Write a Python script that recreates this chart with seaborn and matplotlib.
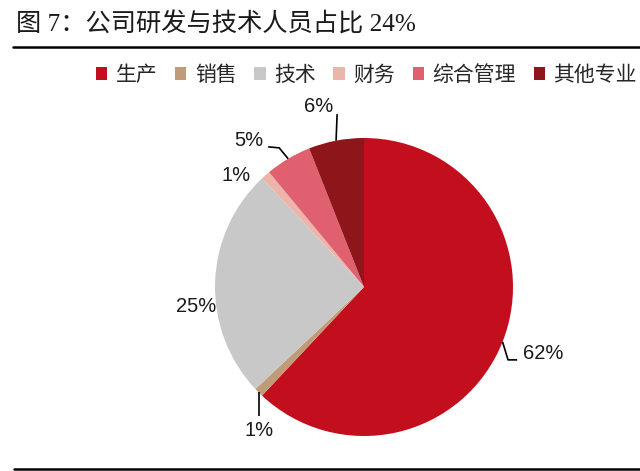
"""
Pie chart: share of staff by function (R&D and technical 24%)
"""

import numpy as np
import matplotlib.pyplot as plt
import seaborn as sns
from matplotlib.patches import Patch
from matplotlib.lines import Line2D

# --- Data ---
categories = ['生产', '销售', '技术', '财务', '综合管理', '其他专业']
shares = [62, 1, 25, 1, 5, 6]
labels = ['62%', '1%', '25%', '1%', '5%', '6%']
colors = ['#C20E1D', '#C09B77', '#C8C8C8', '#EDB5AA', '#E0606F', '#8E1519']

sns.set_theme(style='white')
plt.rcParams['font.family'] = ['Liberation Sans', 'Noto Sans CJK SC', 'DejaVu Sans']

W, H = 640, 471
fig = plt.figure(figsize=(W / 100, H / 100), dpi=100)
fig.patch.set_facecolor('white')

# axes spans the whole figure; 1 data unit = R pixels, pie centre at (cx, cy)
R, cx, cy = 149.0, 364.0, 287.0
ax = fig.add_axes([0, 0, 1, 1])

wedges, _ = ax.pie(shares, colors=colors, startangle=90, counterclock=False,
                   radius=1.0, center=(0, 0), frame=True,
                   wedgeprops=dict(linewidth=0))
ax.set_xlim(-cx / R, (W - cx) / R)
ax.set_ylim(-(H - cy) / R, cy / R)
ax.set_aspect('auto')
ax.axis('off')

# label placement: text offset from rim point, and leader path (offsets from rim)
label_style = [
    dict(text=(0.135, -0.075), ha='left', path=[(0.037, -0.121), (0.098, -0.121)]),
    dict(text=(0.0, -0.255), ha='center', path=[(0.0, -0.158)]),
    dict(text=(-0.13, -0.16), ha='center', path=None),
    dict(text=(-0.2, 0.0), ha='center', path=None),
    dict(text=(-0.262, 0.12), ha='center', path=[(-0.06, 0.073), (-0.134, 0.08)]),
    dict(text=(-0.12, 0.23), ha='center', path=[(0.007, 0.178)]),
]

for w, lab, st in zip(wedges, labels, label_style):
    ang = np.deg2rad((w.theta1 + w.theta2) / 2)
    rx, ry = np.cos(ang), np.sin(ang)
    if st['path']:
        xs = [rx] + [rx + dx for dx, dy in st['path']]
        ys = [ry] + [ry + dy for dx, dy in st['path']]
        ax.plot(xs, ys, color='black', lw=1.2, solid_capstyle='butt')
    ax.text(rx + st['text'][0], ry + st['text'][1], lab, ha=st['ha'], va='center',
            fontsize=14.5, color='#1a1a1a', family=['Liberation Sans', 'DejaVu Sans'])

# --- Title and rules ---
fig.text(16 / W, 1 - 24 / H, '图 7：公司研发与技术人员占比 24%', ha='left', va='center',
         fontsize=18.2, color='#1a1a1a',
         family=['Liberation Serif', 'Noto Sans CJK SC', 'DejaVu Sans'])
fig.add_artist(Line2D([13 / W, 1], [1 - 47 / H] * 2, color='black', lw=1.8,
                      transform=fig.transFigure))
fig.add_artist(Line2D([14 / W, 1], [1 - 469 / H] * 2, color='black', lw=1.8,
                      transform=fig.transFigure))

# --- Legend ---
handles = [Patch(facecolor=c, edgecolor='none', label=n) for c, n in zip(colors, categories)]
leg = fig.legend(handles=handles, loc='center right', bbox_to_anchor=(637 / W, 1 - 75 / H),
                 ncol=6, frameon=False, handlelength=0.55, handleheight=0.55,
                 handletextpad=0.4, columnspacing=0.85, borderaxespad=0, borderpad=0,
                 prop=dict(family=['Noto Sans CJK SC', 'DejaVu Sans'], size=15))

fig.savefig('out.png', dpi=100, facecolor='white')
